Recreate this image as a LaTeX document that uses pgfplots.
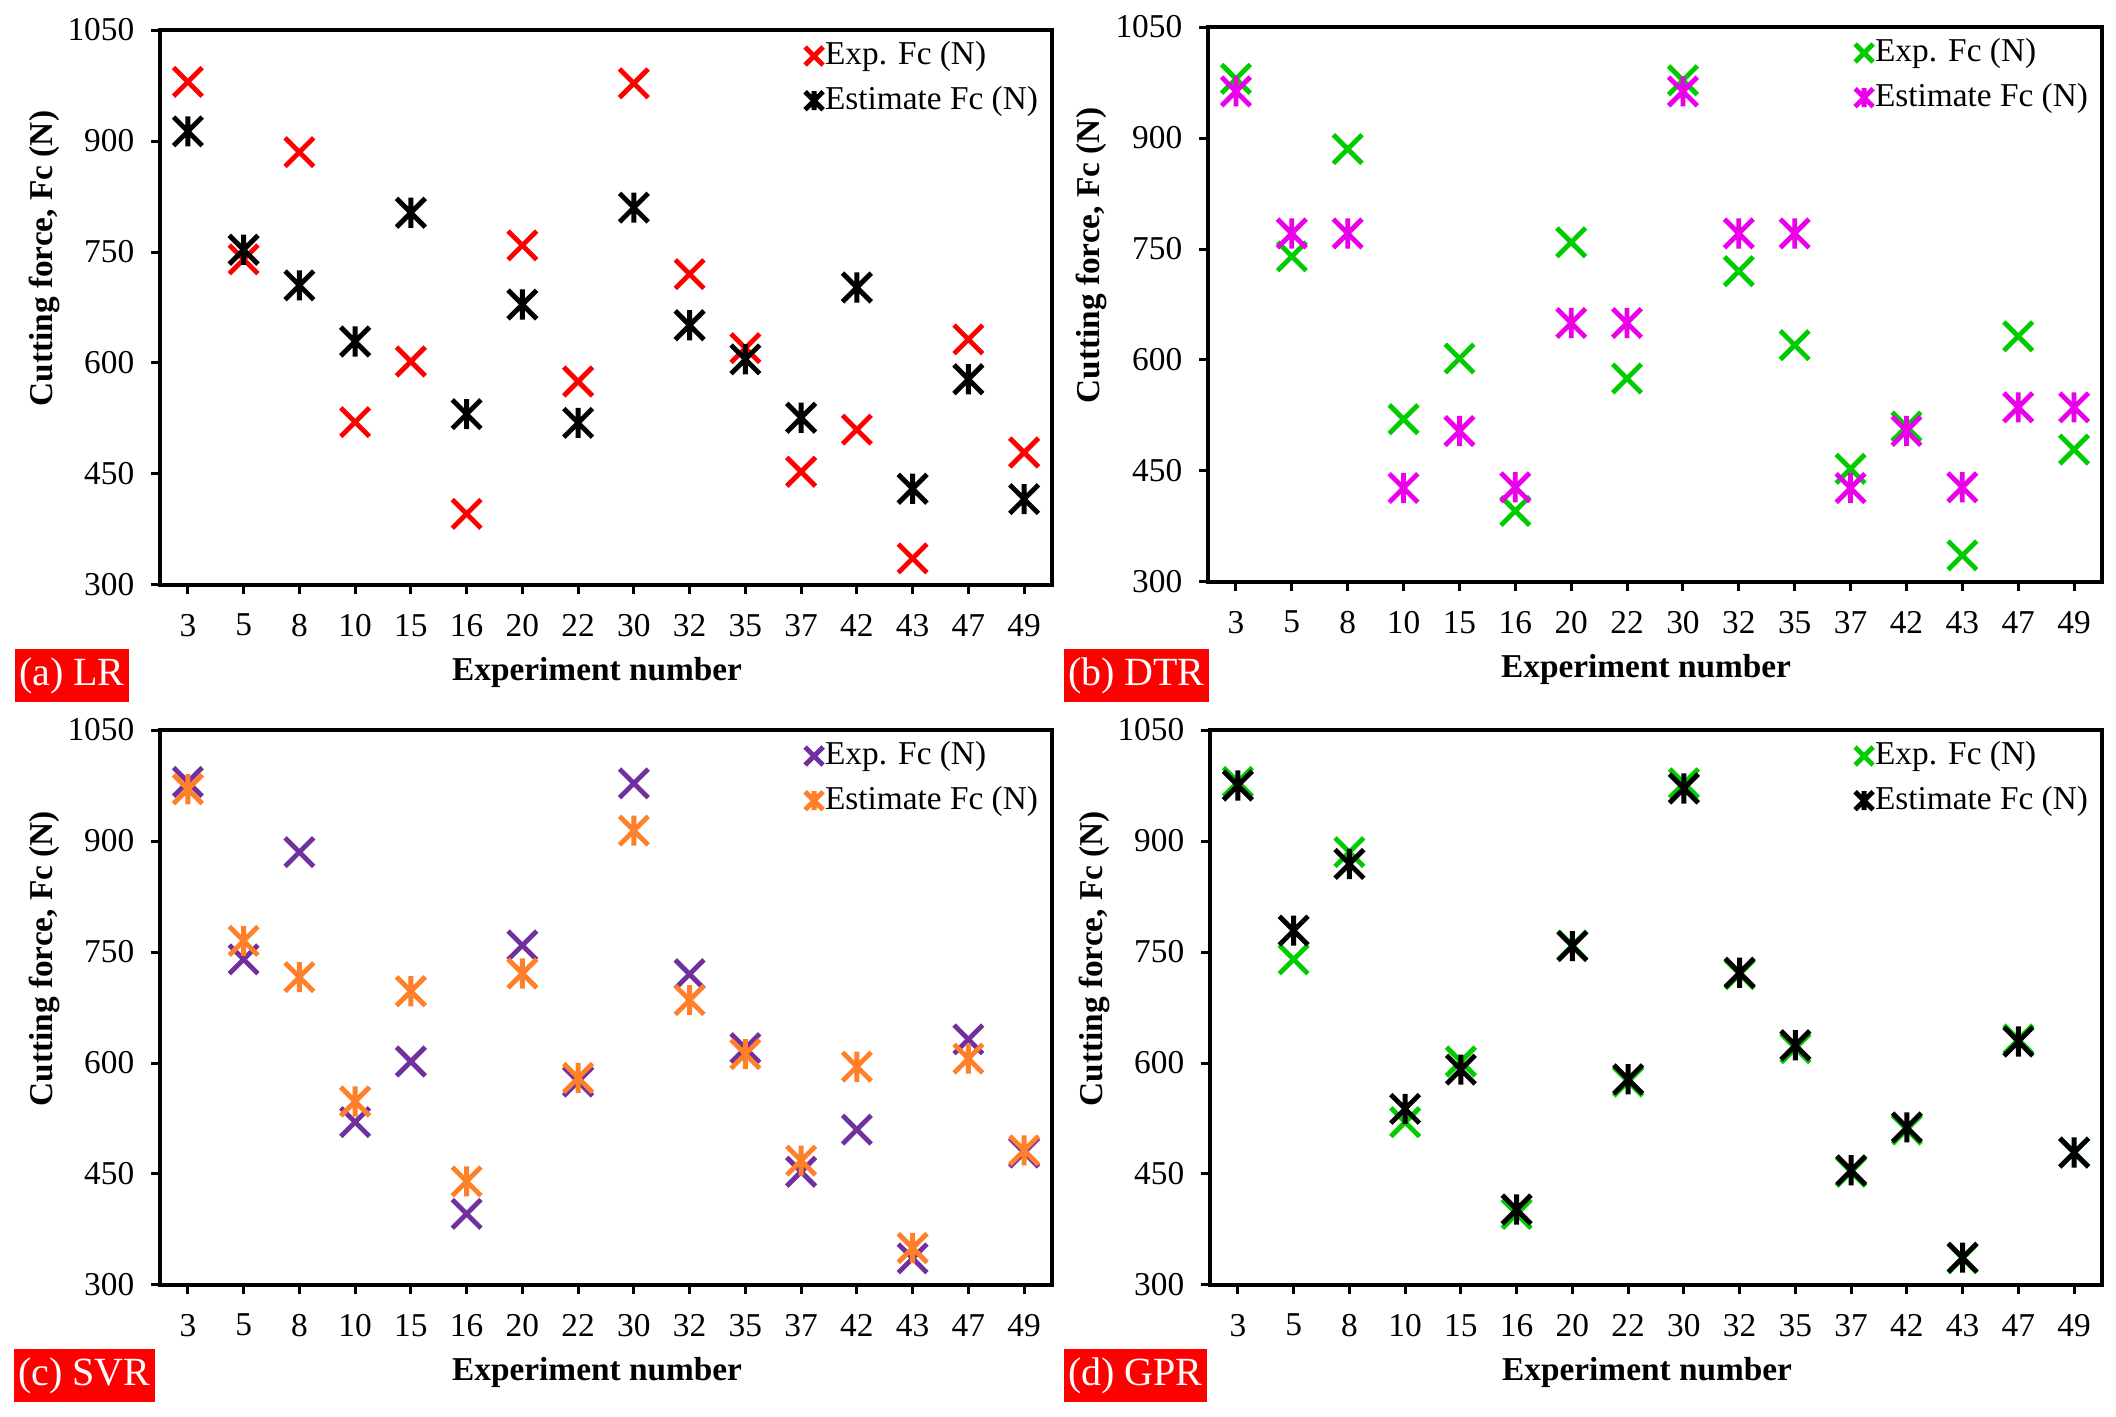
\documentclass[border=0pt]{standalone}
\usepackage{fontspec}
\setmainfont{Liberation Serif}
\usepackage{pgfplots}
\pgfplotsset{compat=1.18}
\usepackage{pgfplotstable}

\definecolor{cred}{RGB}{255,0,0}
\definecolor{cgreen}{RGB}{0,204,0}
\definecolor{cmag}{RGB}{235,0,235}
\definecolor{cpurple}{RGB}{112,48,160}
\definecolor{corange}{RGB}{255,128,40}

\pgfdeclareplotmark{xc}{%
  \pgfpathmoveto{\pgfqpoint{-\pgfplotmarksize}{-\pgfplotmarksize}}%
  \pgfpathlineto{\pgfqpoint{\pgfplotmarksize}{\pgfplotmarksize}}%
  \pgfpathmoveto{\pgfqpoint{-\pgfplotmarksize}{\pgfplotmarksize}}%
  \pgfpathlineto{\pgfqpoint{\pgfplotmarksize}{-\pgfplotmarksize}}%
  \pgfusepathqstroke}
\pgfdeclareplotmark{xs}{%
  \pgfpathmoveto{\pgfqpoint{-\pgfplotmarksize}{-\pgfplotmarksize}}%
  \pgfpathlineto{\pgfqpoint{\pgfplotmarksize}{\pgfplotmarksize}}%
  \pgfpathmoveto{\pgfqpoint{-\pgfplotmarksize}{\pgfplotmarksize}}%
  \pgfpathlineto{\pgfqpoint{\pgfplotmarksize}{-\pgfplotmarksize}}%
  \pgfpathmoveto{\pgfqpoint{0pt}{-1.05\pgfplotmarksize}}%
  \pgfpathlineto{\pgfqpoint{0pt}{1.05\pgfplotmarksize}}%
  \pgfusepathqstroke}

\pgfplotstableread{
i exp lr dtr svr gpr
0 980 913 963 970 975
1 740 753 771 765 779
2 885 705 771 716 869
3 520 629 427 548 538
4 602 803 504 697 591
5 396 531 428 440 402
6 759 679 650 721 758
7 575 519 650 580 578
8 978 810 963 914 971
9 720 651 771 685 722
10 620 605 771 612 624
11 453 526 427 468 455
12 510 702 504 595 513
13 336 430 428 350 337
14 632 578 536 606 629
15 479 416 536 482 479
}\data

\pgfplotsset{
  panel/.style={
    scale only axis,
    width=267.6pt, height=166.5pt,
    xmin=-0.5, xmax=15.5, ymin=300, ymax=1050,
    xtick={0,...,15},
    xticklabels={3,5,8,10,15,16,20,22,30,32,35,37,42,43,47,49},
    ytick={300,450,...,1050},
    tick align=outside, tick pos=left,
    major tick length=2.7pt,
    tick style={line width=0.9pt, black},
    axis line style={line width=1pt},
    /pgf/number format/assume math mode=true,
    /pgf/number format/1000 sep={},
    tick label style={font=\fontsize{10}{12}\selectfont},
    yticklabel style={xshift=-1.5pt},
    xticklabel style={yshift=-2.5pt},
    xlabel={\textbf{Experiment number}},
    ylabel={\textbf{Cutting force, Fc (N)}},
    label style={font=\fontsize{10}{12}\selectfont},
    xlabel style={at={(axis description cs:0.49,0)}, anchor=base, yshift=-28.8pt},
    ylabel style={at={(axis description cs:-0.13,0.588)}, anchor=center, rotate=0},
    legend cell align=left,
    legend style={draw=none, fill=none, at={(rel axis cs:1,1)}, anchor=north east,
      xshift=-3.4pt, yshift=-2.5pt, inner sep=0pt,
      font=\fontsize{10}{12}\selectfont,
      nodes={inner sep=0.6pt, text height=7pt, text depth=2pt},
      row sep=3.2pt},
    legend image code/.code={\draw[#1, mark size=2.7pt] plot coordinates {(0cm,0cm)};},
  },
  expstyle/.style={only marks, mark=xc, mark size=4.3pt, line width=1.45pt, #1},
  eststyle/.style={only marks, mark=xs, mark size=4.3pt, line width=1.45pt, #1},
}

\begin{document}
\begin{tikzpicture}
\path[use as bounding box] (0,0) rectangle (634.8pt,425.1pt);

% (a) LR
\begin{axis}[panel, at={(48pt,249.6pt)}, anchor=south west]
\addplot[expstyle=cred] table[x=i, y=exp] {\data};
\addlegendentry{Exp. Fc (N)}
\addplot[eststyle=black] table[x=i, y=lr] {\data};
\addlegendentry{Estimate Fc (N)}
\end{axis}

% (b) DTR
\begin{axis}[panel, at={(362.4pt,250.5pt)}, anchor=south west, width=268.2pt]
\addplot[expstyle=cgreen] table[x=i, y=exp] {\data};
\addlegendentry{Exp. Fc (N)}
\addplot[eststyle=cmag] table[x=i, y=dtr] {\data};
\addlegendentry{Estimate Fc (N)}
\end{axis}

% (c) SVR
\begin{axis}[panel, at={(48pt,39.6pt)}, anchor=south west]
\addplot[expstyle=cpurple] table[x=i, y=exp] {\data};
\addlegendentry{Exp. Fc (N)}
\addplot[eststyle=corange] table[x=i, y=svr] {\data};
\addlegendentry{Estimate Fc (N)}
\end{axis}

% (d) GPR
\begin{axis}[panel, at={(363pt,39.6pt)}, anchor=south west]
\addplot[expstyle=cgreen] table[x=i, y=exp] {\data};
\addlegendentry{Exp. Fc (N)}
\addplot[eststyle=black] table[x=i, y=gpr] {\data};
\addlegendentry{Estimate Fc (N)}
\end{axis}

% panel labels
\tikzset{plab/.style={fill=cred, text=white, anchor=south west, inner xsep=1.3pt,
  inner ysep=0pt, minimum height=16pt, font=\fontsize{12}{14}\selectfont}}
\node[plab] at (4.2pt,214.2pt) {(a) LR};
\node[plab] at (318.9pt,214.2pt) {(b) DTR};
\node[plab] at (4.0pt,4.2pt) {(c) SVR};
\node[plab] at (318.9pt,4.2pt) {(d) GPR};
\end{tikzpicture}
\end{document}
